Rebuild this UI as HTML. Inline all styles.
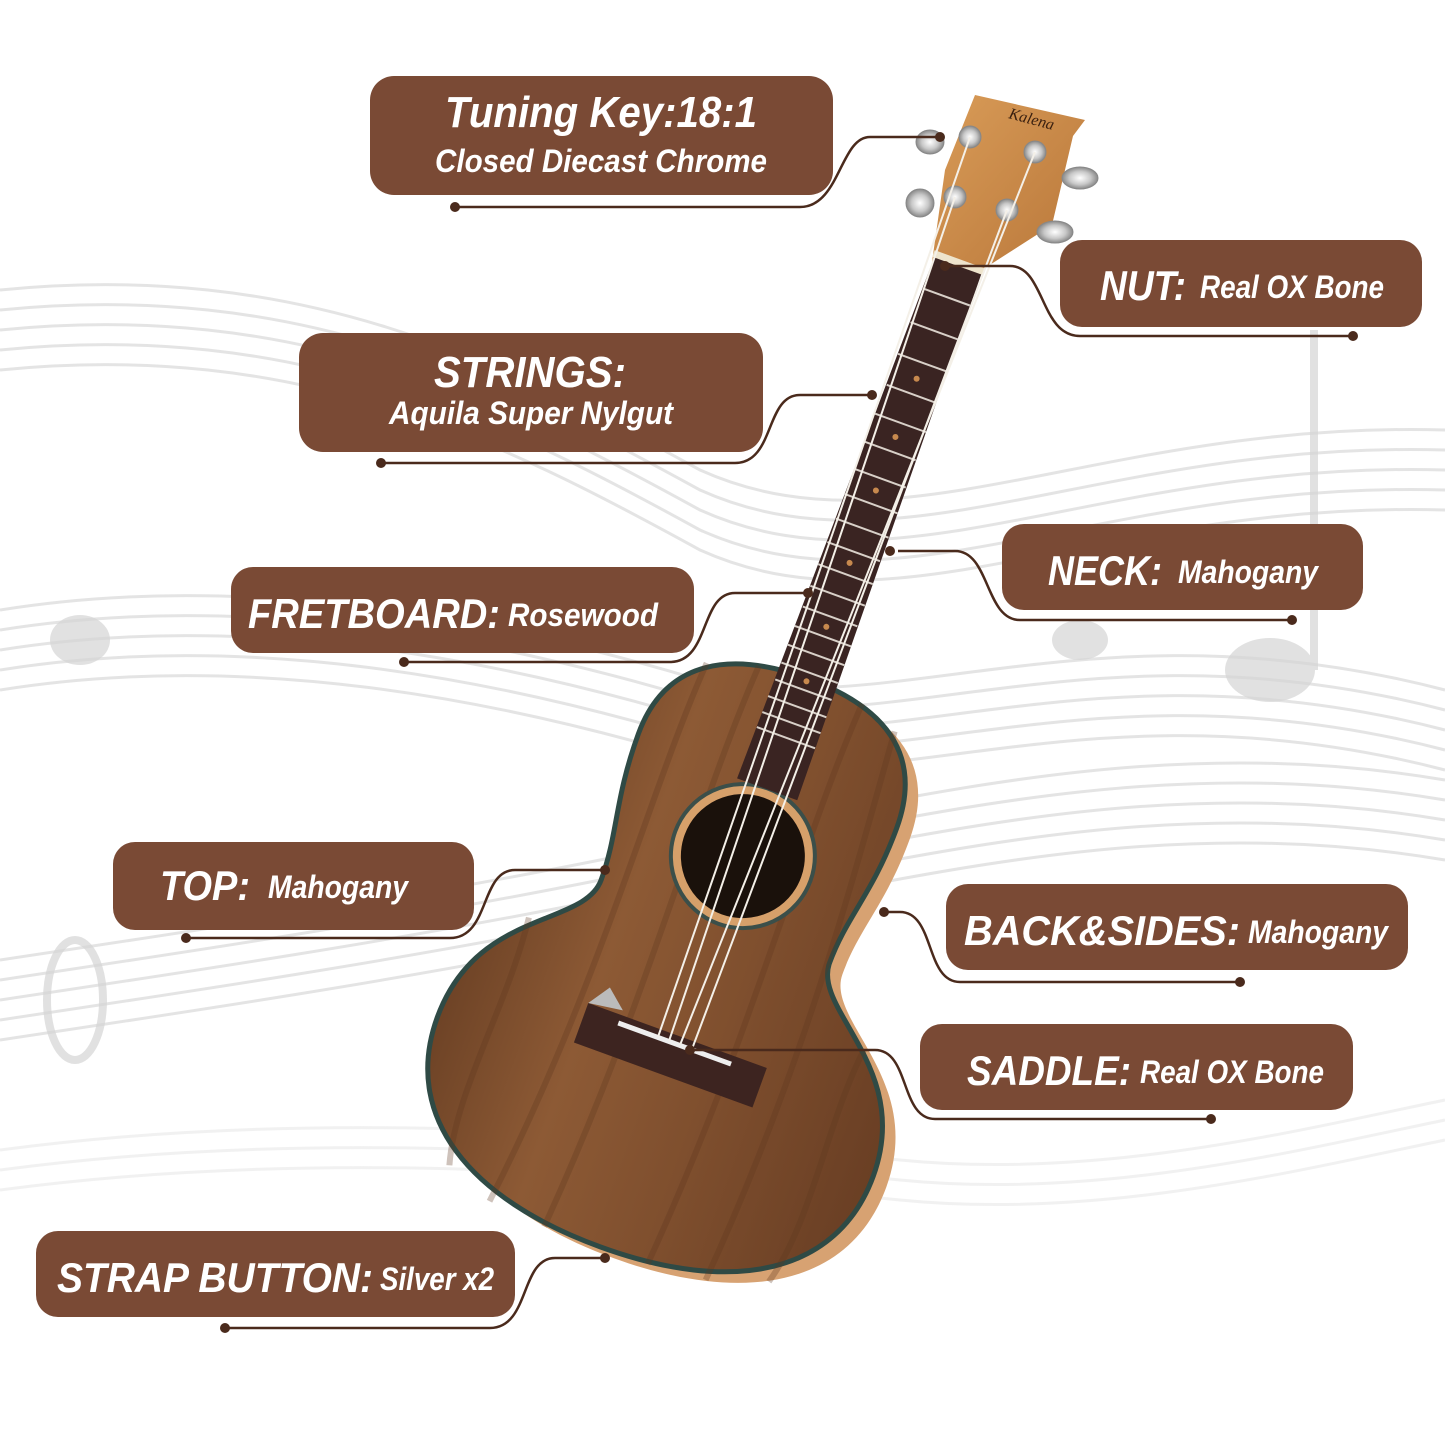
<!DOCTYPE html>
<html><head><meta charset="utf-8"><style>
html,body{margin:0;padding:0;background:#fff}
svg{display:block}
.t{font-family:"Liberation Sans",sans-serif;font-weight:bold;font-style:italic;fill:#fff}
</style></head><body>
<svg width="1445" height="1445" viewBox="0 0 1445 1445" xmlns="http://www.w3.org/2000/svg">
<defs>
<linearGradient id="wood" x1="0" y1="0" x2="1" y2="0">
<stop offset="0" stop-color="#6e4326"/><stop offset="0.3" stop-color="#8d5a35"/><stop offset="0.6" stop-color="#7f4f2e"/><stop offset="1" stop-color="#6a3f24"/></linearGradient>
<linearGradient id="head" x1="0" y1="0" x2="1" y2="1"><stop offset="0" stop-color="#d99c58"/><stop offset="1" stop-color="#b9773a"/></linearGradient>
<radialGradient id="chrome"><stop offset="0" stop-color="#fff"/><stop offset="0.6" stop-color="#c8c8c8"/><stop offset="1" stop-color="#888"/></radialGradient>
</defs>
<g fill="none" stroke="#dedede" stroke-width="3" opacity="0.8">
<path d="M0,290 C300,260 500,360 700,470 C900,560 1100,420 1445,430"/>
<path d="M0,310 C300,280 500,380 700,490 C900,580 1100,440 1445,450"/>
<path d="M0,330 C300,300 500,400 700,510 C900,600 1100,460 1445,470"/>
<path d="M0,350 C300,320 500,420 700,530 C900,620 1100,480 1445,490"/>
<path d="M0,370 C300,340 500,440 700,550 C900,640 1100,500 1445,510"/>
<path d="M0,610 C250,570 500,620 700,680 C900,720 1100,600 1445,690"/>
<path d="M0,630 C250,590 500,640 700,700 C900,740 1100,620 1445,710"/>
<path d="M0,650 C250,610 500,660 700,720 C900,760 1100,640 1445,730"/>
<path d="M0,670 C250,630 500,680 700,740 C900,780 1100,660 1445,750"/>
<path d="M0,690 C250,650 500,700 700,760 C900,800 1100,680 1445,770"/>
<path d="M0,960 C200,930 400,900 600,860 C900,800 1150,730 1445,780"/>
<path d="M0,980 C200,950 400,920 600,880 C900,820 1150,750 1445,800"/>
<path d="M0,1000 C200,970 400,940 600,900 C900,840 1150,770 1445,820"/>
<path d="M0,1020 C200,990 400,960 600,920 C900,860 1150,790 1445,840"/>
<path d="M0,1040 C200,1010 400,980 600,940 C900,880 1150,810 1445,860"/>
<path d="M0,1150 C300,1110 600,1130 900,1160 C1100,1180 1300,1130 1445,1100" opacity="0.5"/>
<path d="M0,1170 C300,1130 600,1150 900,1180 C1100,1200 1300,1150 1445,1120" opacity="0.5"/>
<path d="M0,1190 C300,1150 600,1170 900,1200 C1100,1220 1300,1170 1445,1140" opacity="0.5"/>
</g>
<g fill="#d4d4d4" opacity="0.7">
<ellipse cx="1270" cy="670" rx="45" ry="32"/><rect x="1310" y="330" width="8" height="340"/>
<ellipse cx="1080" cy="640" rx="28" ry="20"/><ellipse cx="80" cy="640" rx="30" ry="25"/>
<ellipse cx="75" cy="1000" rx="28" ry="60" fill="none" stroke="#d4d4d4" stroke-width="8"/>
</g>

<!-- headstock (screen coords) -->
<path d="M975,95 L1085,120 L1073,136 L1052,225 L985,268 L932,262 L945,170 Z" fill="url(#head)"/>
<text x="1008" y="118" transform="rotate(15 1008 118)" font-family="Liberation Serif,serif" font-style="italic" font-size="16" fill="#3a2010">Kalena</text>
<g fill="url(#chrome)" stroke="#888" stroke-width="1">
<ellipse cx="930" cy="142" rx="14" ry="12"/><ellipse cx="920" cy="203" rx="14" ry="14"/>
<ellipse cx="1080" cy="178" rx="18" ry="11"/><ellipse cx="1055" cy="232" rx="18" ry="11"/>
<circle cx="970" cy="137" r="11"/><circle cx="955" cy="197" r="11"/><circle cx="1035" cy="152" r="11"/><circle cx="1007" cy="210" r="11"/>
</g>

<g transform="translate(958,265) rotate(20)">
  <path transform="translate(16,6)" d="M0,440 C80,440 135,470 135,550 C135,620 118,650 118,700 C118,750 232,770 232,885 C232,990 140,1045 0,1045 C-140,1045 -232,990 -232,885 C-232,770 -125,750 -125,700 C-125,650 -140,620 -140,550 C-140,470 -80,440 0,440Z" fill="#d7a272"/>
  <path d="M0,440 C80,440 135,470 135,550 C135,620 118,650 118,700 C118,750 232,770 232,885 C232,990 140,1045 0,1045 C-140,1045 -232,990 -232,885 C-232,770 -125,750 -125,700 C-125,650 -140,620 -140,550 C-140,470 -80,440 0,440Z" fill="url(#wood)" stroke="#2f4a45" stroke-width="5"/>
  <g stroke="#5e371e" stroke-width="6" opacity="0.3" fill="none">
    <path d="M-180,760 C-170,850 -190,950 -170,1020"/><path d="M-100,460 C-110,600 -90,800 -120,1040"/>
    <path d="M-50,445 C-60,600 -40,800 -60,1045"/><path d="M60,445 C50,600 70,800 50,1045"/>
    <path d="M100,460 C110,600 130,800 110,1040"/><path d="M180,770 C170,850 190,950 170,1020"/>
  </g>
  <circle cx="0" cy="629" r="72" fill="#d6a06a" stroke="#3b4f4a" stroke-width="4"/>
  <circle cx="0" cy="629" r="62" fill="#1a110b"/>
  <path d="M-25,0 L25,0 L32,558 L-32,558Z" fill="#3a2422"/>
  <g stroke="#d8d0c8" stroke-width="2">
    <line x1="-25" y1="34" x2="25" y2="34"/><line x1="-25" y1="70" x2="25" y2="70"/><line x1="-26" y1="104" x2="26" y2="104"/>
    <line x1="-26" y1="137" x2="26" y2="137"/><line x1="-27" y1="168" x2="27" y2="168"/><line x1="-27" y1="198" x2="27" y2="198"/>
    <line x1="-27" y1="227" x2="27" y2="227"/><line x1="-28" y1="254" x2="28" y2="254"/><line x1="-28" y1="280" x2="28" y2="280"/>
    <line x1="-28" y1="305" x2="28" y2="305"/><line x1="-29" y1="329" x2="29" y2="329"/><line x1="-29" y1="352" x2="29" y2="352"/>
    <line x1="-29" y1="374" x2="29" y2="374"/><line x1="-30" y1="395" x2="30" y2="395"/><line x1="-30" y1="415" x2="30" y2="415"/>
    <line x1="-30" y1="434" x2="30" y2="434"/><line x1="-30" y1="452" x2="30" y2="452"/><line x1="-31" y1="470" x2="31" y2="470"/>
    <line x1="-31" y1="487" x2="31" y2="487"/><line x1="-31" y1="503" x2="31" y2="503"/>
  </g>
  <g fill="#c7894e"><circle cx="0" cy="121" r="3"/><circle cx="0" cy="183" r="3"/><circle cx="0" cy="240" r="3"/><circle cx="0" cy="317" r="3"/><circle cx="0" cy="385" r="3"/><circle cx="0" cy="443" r="3"/></g>
  <rect x="-27" y="-6" width="54" height="7" fill="#eee4cc"/>
  <path d="M-95,820 L95,820 L95,862 L-95,862Z" fill="#3d2420"/>
  <path d="M-95,820 L-80,798 L-60,815Z" fill="#bbb"/>
  <rect x="-60" y="826" width="120" height="5" fill="#eee"/>
</g>
<g stroke="#f4f0e8" stroke-width="2">
<line x1="970" y1="137" x2="658" y2="1037"/><line x1="955" y1="197" x2="669" y2="1041"/>
<line x1="1035" y1="152" x2="680" y2="1045"/><line x1="1007" y1="210" x2="692" y2="1049"/>
</g>

<g fill="none" stroke="#4a2a1c" stroke-width="2.5">
<path d="M455,207 L800,207 C840,207 840,137 870,137 L940,137"/>
<path d="M1353,336 L1080,336 C1040,336 1045,266 1010,266 L945,266"/>
<path d="M381,463 L735,463 C775,463 765,395 800,395 L872,395"/>
<path d="M1292,620 L1020,620 C985,620 990,551 955,551 L898,551"/>
<path d="M404,662 L670,662 C710,662 700,593 735,593 L808,593"/>
<path d="M186,938 L450,938 C490,938 480,870 515,870 L605,870"/>
<path d="M1240,982 L960,982 C925,982 935,912 900,912 L882,912"/>
<path d="M1211,1119 L935,1119 C900,1119 910,1050 875,1050 L690,1050"/>
<path d="M225,1328 L490,1328 C530,1328 520,1258 555,1258 L605,1258"/>
</g>
<g fill="#4a2a1c">
<circle cx="455" cy="207" r="5"/><circle cx="940" cy="137" r="5"/>
<circle cx="1353" cy="336" r="5"/><circle cx="945" cy="266" r="5"/>
<circle cx="381" cy="463" r="5"/><circle cx="872" cy="395" r="5"/>
<circle cx="1292" cy="620" r="5"/><circle cx="890" cy="551" r="5"/>
<circle cx="404" cy="662" r="5"/><circle cx="808" cy="593" r="5"/>
<circle cx="186" cy="938" r="5"/><circle cx="605" cy="870" r="5"/>
<circle cx="1240" cy="982" r="5"/><circle cx="884" cy="912" r="5"/>
<circle cx="1211" cy="1119" r="5"/><circle cx="690" cy="1050" r="5"/>
<circle cx="225" cy="1328" r="5"/><circle cx="605" cy="1258" r="5"/>
</g>

<g fill="#7a4a35">
<rect x="370" y="76" width="463" height="119" rx="24"/>
<rect x="1060" y="240" width="362" height="87" rx="22"/>
<rect x="299" y="333" width="464" height="119" rx="24"/>
<rect x="1002" y="524" width="361" height="86" rx="22"/>
<rect x="231" y="567" width="463" height="86" rx="22"/>
<rect x="113" y="842" width="361" height="88" rx="22"/>
<rect x="946" y="884" width="462" height="86" rx="22"/>
<rect x="920" y="1024" width="433" height="86" rx="22"/>
<rect x="36" y="1231" width="479" height="86" rx="22"/>
</g>
<g class="t">
<text x="445" y="127" font-size="44" textLength="312" lengthAdjust="spacingAndGlyphs">Tuning Key:18:1</text>
<text x="435" y="172" font-size="32" textLength="332" lengthAdjust="spacingAndGlyphs">Closed Diecast Chrome</text>
<text x="1100" y="300" font-size="42" textLength="86" lengthAdjust="spacingAndGlyphs">NUT:</text>
<text x="1200" y="298" font-size="32" textLength="184" lengthAdjust="spacingAndGlyphs">Real OX Bone</text>
<text x="434" y="387" font-size="44" textLength="192" lengthAdjust="spacingAndGlyphs">STRINGS:</text>
<text x="389" y="424" font-size="32" textLength="284" lengthAdjust="spacingAndGlyphs">Aquila Super Nylgut</text>
<text x="1048" y="585" font-size="42" textLength="114" lengthAdjust="spacingAndGlyphs">NECK:</text>
<text x="1178" y="583" font-size="32" textLength="140" lengthAdjust="spacingAndGlyphs">Mahogany</text>
<text x="248" y="628" font-size="42" textLength="252" lengthAdjust="spacingAndGlyphs">FRETBOARD:</text>
<text x="508" y="626" font-size="32" textLength="150" lengthAdjust="spacingAndGlyphs">Rosewood</text>
<text x="160" y="900" font-size="42" textLength="90" lengthAdjust="spacingAndGlyphs">TOP:</text>
<text x="268" y="898" font-size="32" textLength="140" lengthAdjust="spacingAndGlyphs">Mahogany</text>
<text x="964" y="945" font-size="42" textLength="276" lengthAdjust="spacingAndGlyphs">BACK&amp;SIDES:</text>
<text x="1248" y="943" font-size="32" textLength="140" lengthAdjust="spacingAndGlyphs">Mahogany</text>
<text x="967" y="1085" font-size="42" textLength="164" lengthAdjust="spacingAndGlyphs">SADDLE:</text>
<text x="1140" y="1083" font-size="32" textLength="184" lengthAdjust="spacingAndGlyphs">Real OX Bone</text>
<text x="57" y="1292" font-size="42" textLength="316" lengthAdjust="spacingAndGlyphs">STRAP BUTTON:</text>
<text x="380" y="1290" font-size="32" textLength="114" lengthAdjust="spacingAndGlyphs">Silver x2</text>
</g>
</svg>
</body></html>
